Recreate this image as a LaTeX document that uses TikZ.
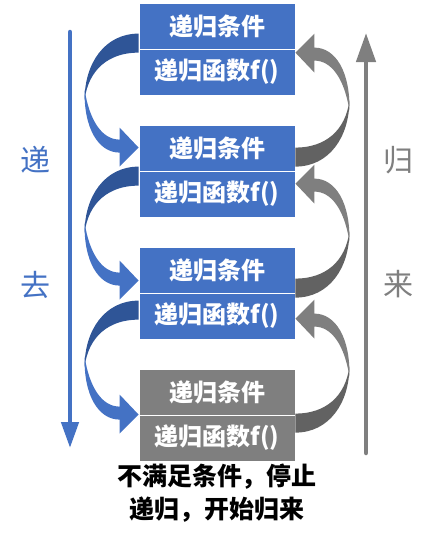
\documentclass[tikz,border=0pt]{standalone}
\usepackage{fontspec}
\newfontfamily\cjk{Noto Sans CJK SC}
\usepackage{tikz}
\usetikzlibrary{arrows.meta}
\definecolor{boxblue}{HTML}{4472C4}
\definecolor{boxgray}{HTML}{7F7F7F}
\definecolor{backblue}{HTML}{2F5597}
\definecolor{backgray}{HTML}{626262}

\begin{document}
\begin{tikzpicture}[x=1pt,y=-1pt,
    cell/.style={minimum width=156pt,minimum height=46pt,inner sep=0pt,
        draw=white,line width=0.8pt,text=white,
        font=\cjk\bfseries\fontsize{24}{28}\selectfont},
    bluecell/.style={cell,fill=boxblue},
    graycell/.style={cell,fill=boxgray},
    sidelabel/.style={font=\cjk\fontsize{30}{34}\selectfont}]
    \useasboundingbox (0,0) rectangle (433,536);

    % Boxes
    \foreach \k/\y in {1/3,2/125,3/247} {
        \node[bluecell] (c\k) at (217,\y+23) {递归条件};
        \node[bluecell] (f\k) at (217,\y+69) {递归函数f()};
    }
    \node[graycell] (c4) at (217,392) {递归条件};
    \node[graycell] (f4) at (217,438) {递归函数f()};

    % Curved arrows - left side (going down)
    \foreach \k/\d in {1/15,2/4,3/-8} {
        \begin{scope}[shift={([yshift=\d pt]f\k.north west)}]
            \fill[backblue] (0,0) .. controls (-34,0) and (-54,30) .. (-54,66)
                .. controls (-50,36) and (-30,19) .. (0,19) -- cycle;
            \fill[boxblue] (-54,56) .. controls (-55,95) and (-40,119) .. (-19,119)
                -- (-19,133) -- (0,114) -- (-19,94) -- (-19,106)
                .. controls (-36,106) and (-49,88) .. (-54,56) -- cycle;
        \end{scope}
    }

    % Curved arrows - right side (coming back)
    \foreach \k/\d in {2/4,3/-5,4/-18} {
        \begin{scope}[shift={([yshift=\d pt]f\k.north east)},rotate=180]
            \fill[backgray] (0,0) .. controls (-34,0) and (-54,30) .. (-54,66)
                .. controls (-50,36) and (-30,19) .. (0,19) -- cycle;
            \fill[boxgray] (-54,56) .. controls (-55,95) and (-40,119) .. (-19,119)
                -- (-19,133) -- (0,114) -- (-19,94) -- (-19,106)
                .. controls (-36,106) and (-49,88) .. (-54,56) -- cycle;
        \end{scope}
    }

    % Long arrows
    \coordinate (go top) at (70,32);
    \coordinate (go end) at (70,448);
    \coordinate (back start) at (366,453);
    \coordinate (back end) at (366,33);
    \draw[boxblue,line width=4.5pt,line cap=round,
        -{Triangle[length=26pt,width=17pt]}] (go top) -- (go end);
    \draw[boxgray,line width=4.5pt,line cap=round,
        -{Triangle[length=29pt,width=19pt]}] (back start) -- (back end);

    % Labels
    \node[sidelabel,text=boxblue] (di) at (35,160) {递};
    \node[sidelabel,text=boxblue] (qu) at (35,285) {去};
    \node[sidelabel,text=boxgray] (gui) at (398,160) {归};
    \node[sidelabel,text=boxgray] (lai) at (398,284) {来};
    \node[align=center,font=\cjk\bfseries\fontsize{25}{33}\selectfont]
        (note) at (217,493) {不满足条件，停止\\递归，开始归来};
\end{tikzpicture}
\end{document}
